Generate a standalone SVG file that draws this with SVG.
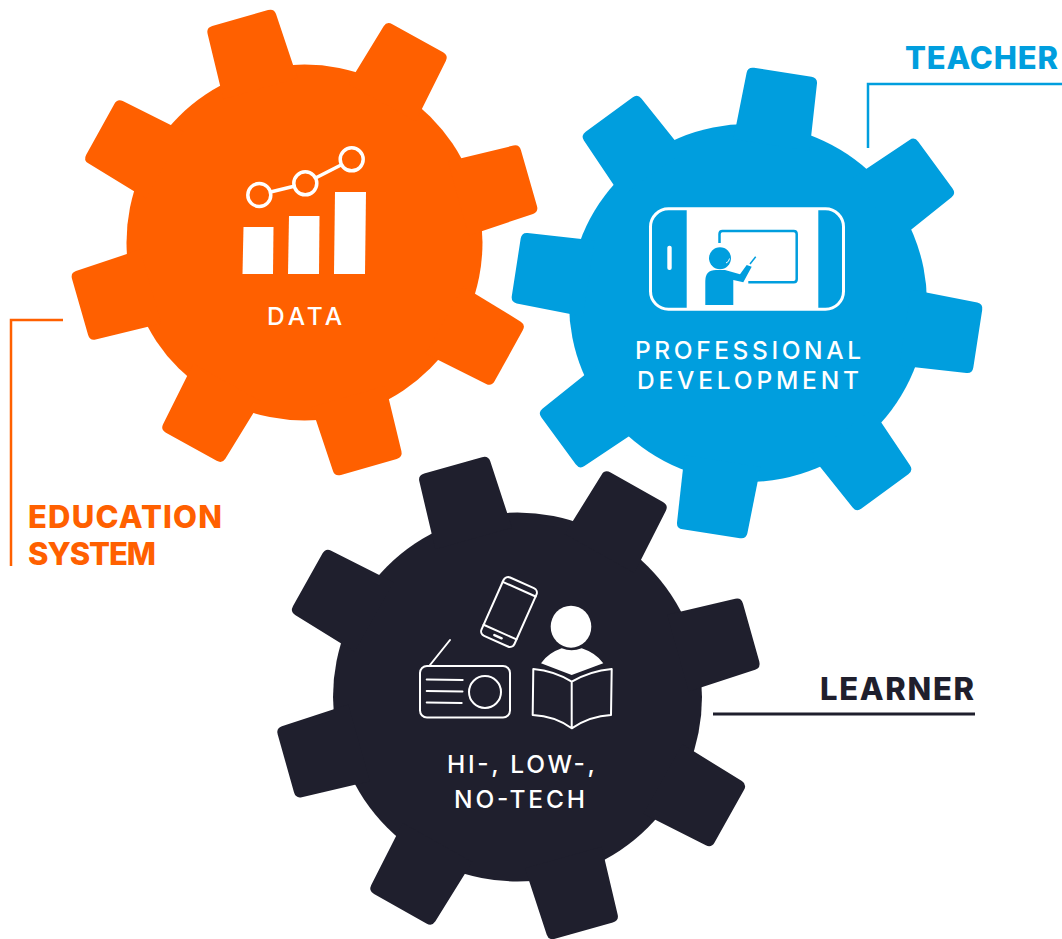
<svg xmlns="http://www.w3.org/2000/svg" xmlns:xlink="http://www.w3.org/1999/xlink" width="1062" height="939" viewBox="0 0 1062 939">
<style>
text{font-family:"Inter","Open Sans","Liberation Sans",sans-serif}
.lab{font-weight:500;fill:#fff;text-anchor:middle}
.head{font-weight:800;font-size:31px}
.ol{fill:none;stroke:#fff;stroke-width:2;stroke-linejoin:round;stroke-linecap:round}
.lead{fill:none}
</style>
<defs>
<path id="tooth" d="M-38.500,-160L-35.600,-227.500Q-35.300,-233.500 -29,-233.500L29,-233.500Q35.300,-233.500 35.600,-227.500L38.500,-160Z"/>
<g id="gear">
<use href="#tooth"/>
<use href="#tooth" transform="rotate(45)"/>
<use href="#tooth" transform="rotate(90)"/>
<use href="#tooth" transform="rotate(135)"/>
<use href="#tooth" transform="rotate(180)"/>
<use href="#tooth" transform="rotate(225)"/>
<use href="#tooth" transform="rotate(270)"/>
<use href="#tooth" transform="rotate(315)"/>
</g>
</defs>
<rect width="1062" height="939" fill="#fff"/>
<g id="connectors">
<path class="lead" d="M868,148V84H1062" stroke="#009ede" stroke-width="2.500"/>
<path class="lead" d="M63,320H11V566" stroke="#ff6000" stroke-width="2.500"/>
<path class="lead" d="M713,714H975" stroke="#1f1f2d" stroke-width="3"/>
</g>
<g id="gear-data">
<circle cx="304.500" cy="242.500" r="178" fill="#ff6000"/>
<use href="#gear" fill="#ff6000" transform="translate(304.500,242.500) rotate(-16)"/>
<g fill="#fff">
<path d="M243.500,227H273.500L273,274H242.500Z"/>
<path d="M289,216H319.500L319,274H288Z"/>
<path d="M335,192H366L365,274H334Z"/>
</g>
<g fill="none" stroke="#fff" stroke-width="3.500">
<circle cx="259.300" cy="195" r="11.500"/>
<circle cx="305.300" cy="183.300" r="11.500"/>
<circle cx="351.700" cy="159.300" r="11.500"/>
<path d="M270.500,192L294,186.300M315.500,178L341,165"/>
</g>
<text class="lab" x="304.500" y="325" font-size="24.500" textLength="75">DATA</text>
</g>
<g id="gear-professional-development">
<circle cx="748" cy="303" r="179" fill="#009ede"/>
<use href="#gear" fill="#009ede" transform="translate(747,303) rotate(8.800)"/>
<rect x="650.500" y="208.800" width="193" height="100.500" rx="18" fill="#009ede" stroke="#fff" stroke-width="3"/>
<rect x="686.700" y="208" width="131.600" height="102" fill="#fff"/>
<rect x="667.300" y="245.700" width="4.400" height="24.300" rx="2" fill="#fff"/>
<path d="M719.500,243V234Q719.500,231 722.500,231H793.700Q796.700,231 796.700,234V279.300Q796.700,282.300 793.700,282.300H748.300" fill="none" stroke="#009ede" stroke-width="2.500"/>
<circle cx="720" cy="258.300" r="11" fill="#009ede"/>
<path d="M705.300,305V281Q705.300,270 716,270H725L740,274.300L746.700,265L751.700,266.700L743.300,282.300L733.300,280V305Z" fill="#009ede"/>
<path d="M750,264L755.700,256.700" stroke="#009ede" stroke-width="1.500" fill="none"/>
<path d="M726,263Q729,262 729.500,258.500" stroke="#fff" stroke-width="1" fill="none"/>
<text class="lab" x="748" y="359" font-size="24.500" textLength="226">PROFESSIONAL</text>
<text class="lab" x="748" y="389" font-size="24.500" textLength="222">DEVELOPMENT</text>
</g>
<g id="gear-tech">
<circle cx="517.500" cy="697" r="184.500" fill="#1f1f2d"/>
<use href="#gear" fill="#1f1f2d" transform="translate(518.500,698) rotate(-15.700) scale(1.035)"/>
<g transform="translate(509,612) rotate(24)" class="ol">
<rect x="-18" y="-32" width="36" height="64" rx="5"/>
<path d="M-18,-25H18M-18,22H18"/>
<path d="M-4,27H4" stroke-width="2.500"/>
</g>
<g class="ol">
<rect x="420" y="666" width="90" height="51.500" rx="7"/>
<path d="M430,665L450,640"/>
<path d="M426.700,679.500L462.700,680M426.700,691L462.500,691.500M426.700,702.500L461.700,703"/>
<circle cx="485" cy="692" r="16"/>
<path d="M533.300,669Q555,671 571.700,681.700Q590,671 611.700,669L611,715Q590,716 571.700,728.300Q555,716 532.700,715ZM571.700,681.700V728.300"/>
</g>
<ellipse cx="571" cy="626.700" rx="20.300" ry="21" fill="#fff"/>
<path d="M541,663.300Q548,653 561.700,648.300Q571.500,652 581.700,648.300Q596,653 603.300,663.300L571.700,675Z" fill="#fff"/>
<text class="lab" x="521" y="773" font-size="24.500" textLength="148">HI-, LOW-,</text>
<text class="lab" x="519.500" y="808" font-size="24.500" textLength="131">NO-TECH</text>
</g>
<g id="label-teacher"><text class="head" x="905" y="68.500" fill="#009ede" textLength="153">TEACHER</text></g>
<g id="label-education-system">
<text class="head" x="28" y="527.500" fill="#ff6000" textLength="194">EDUCATION</text>
<text class="head" x="28" y="564.500" fill="#ff6000" textLength="128">SYSTEM</text>
</g>
<g id="label-learner"><text class="head" x="820" y="699.500" fill="#1f1f2d" textLength="154">LEARNER</text></g>
</svg>
